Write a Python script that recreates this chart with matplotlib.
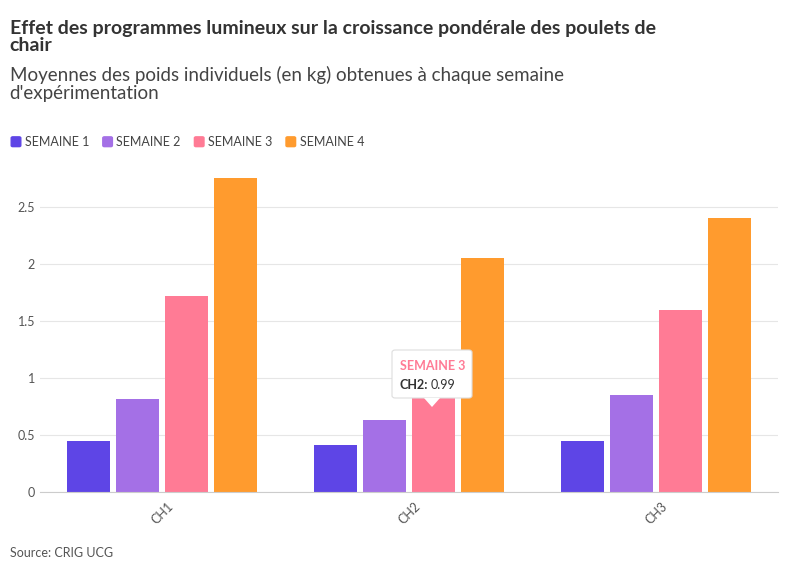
import matplotlib.pyplot as plt
import numpy as np
from matplotlib.patches import FancyBboxPatch, Polygon

plt.rcParams['font.family'] = ['Lato', 'DejaVu Sans']

categories = ['CH1', 'CH2', 'CH3']
series = ['SEMAINE 1', 'SEMAINE 2', 'SEMAINE 3', 'SEMAINE 4']
values = {
    'SEMAINE 1': [0.45, 0.41, 0.45],
    'SEMAINE 2': [0.82, 0.63, 0.85],
    'SEMAINE 3': [1.72, 0.99, 1.60],
    'SEMAINE 4': [2.75, 2.05, 2.40],
}
colors = ['#5e45e6', '#a470e6', '#ff7b95', '#ff9b2e']
yticks = [0, 0.5, 1, 1.5, 2, 2.5]
ytick_labels = ['0', '0.5', '1', '1.5', '2', '2.5']

fig = plt.figure(figsize=(8, 5.75), dpi=100)
ax = fig.add_axes([0.05, 0.144, 0.9225, 0.56])

x = np.arange(len(categories))
step = 0.198
width = 0.174
for i, (s, c) in enumerate(zip(series, colors)):
    ax.bar(x + (i - 1.5) * step, values[s], width=width, color=c, zorder=2)

ax.set_xlim(-0.494, 2.494)
ax.set_ylim(0, 2.82)
ax.set_yticks(yticks)
ax.set_yticklabels(ytick_labels)
ax.set_xticks(x)
ax.set_xticklabels(categories, rotation=45, ha='center')
ax.grid(axis='y', color='#e6e6e6', lw=0.8, zorder=0)
for sp in ['top', 'right', 'left']:
    ax.spines[sp].set_visible(False)
ax.spines['bottom'].set_color('#cccccc')
ax.tick_params(axis='both', length=0, labelsize=9, colors='#555555')
ax.tick_params(axis='x', pad=6)

fig.text(0.012, 0.965, 'Effet des programmes lumineux sur la croissance pondérale des poulets de\nchair',
         fontsize=14, fontweight='bold', color='#333333', va='top', linespacing=1.0)
fig.text(0.012, 0.885, "Moyennes des poids individuels (en kg) obtenues à chaque semaine\nd'expérimentation",
         fontsize=13.5, color='#444444', va='top', linespacing=1.05)

# legend
lx = 0.014
for s, c in zip(series, colors):
    fig.patches.append(FancyBboxPatch((lx, 0.745), 0.012, 0.017, boxstyle='round,pad=0,rounding_size=0.002',
                                      transform=fig.transFigure, color=c))
    t = fig.text(lx + 0.017, 0.753, s, fontsize=9, color='#444444', va='center')
    lx += 0.017 + len(s) * 0.0095 + 0.012

fig.text(0.012, 0.032, 'Source: CRIG UCG', fontsize=9, color='#555555')

# tooltip
box = FancyBboxPatch((392 / 800, 1 - 398 / 575), 80 / 800, 48 / 575,
                     boxstyle='round,pad=0,rounding_size=0.004', transform=fig.transFigure,
                     facecolor='white', edgecolor='#dddddd', lw=0.8, zorder=5)
fig.patches.append(box)
tri = Polygon([[424 / 800, 1 - 398 / 575], [440 / 800, 1 - 398 / 575], [432 / 800, 1 - 407 / 575]],
              closed=True, transform=fig.transFigure, facecolor='white', edgecolor='none', zorder=6)
fig.patches.append(tri)
fig.text(400 / 800, 1 - 366 / 575, 'SEMAINE 3', fontsize=9, fontweight='bold', color=colors[2], va='center', zorder=7)
fig.text(400 / 800, 1 - 385 / 575, 'CH2:', fontsize=9, fontweight='bold', color='#333333', va='center', zorder=7)
fig.text(431 / 800, 1 - 385 / 575, '0.99', fontsize=9, color='#333333', va='center', zorder=7)

fig.savefig('out.png', dpi=100)
